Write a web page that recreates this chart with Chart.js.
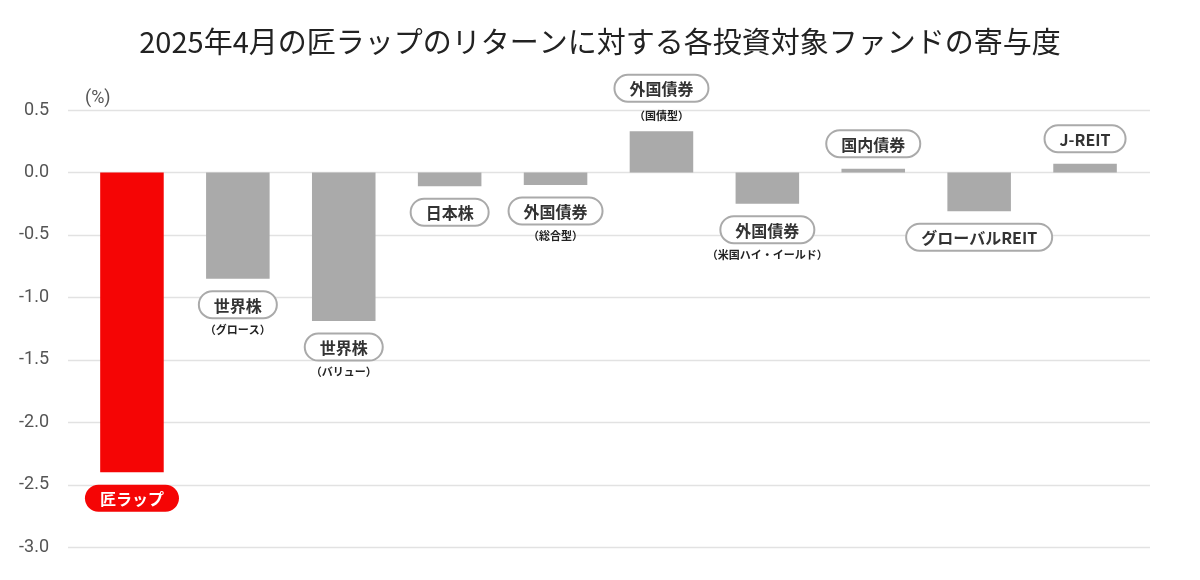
<!DOCTYPE html>
<html><head><meta charset="utf-8">
<script src="https://cdn.jsdelivr.net/npm/chart.js@4"></script>
<style>html,body{margin:0;background:#fff}#w{width:1200px;height:580px}</style>
</head><body><div id="w"><canvas id="c"></canvas></div>
<script>
const categories=['匠ラップ','世界株','世界株','日本株','外国債券','外国債券','外国債券','国内債券','グローバルREIT','J-REIT'];
const subLabels=['','（グロース）','（バリュー）','','（総合型）','（国債型）','（米国ハイ・イールド）','','',''];
const values=[-2.40,-0.85,-1.19,-0.11,-0.10,0.33,-0.25,0.03,-0.31,0.07];
const yTicks=[0.5,0,-0.5,-1,-1.5,-2,-2.5,-3];
const titleText='2025年4月の匠ラップのリターンに対する各投資対象ファンドの寄与度';
const FONT='"Noto Sans CJK JP", "Noto Sans", sans-serif';
const colors=values.map((v,i)=>i===0?'#f50505':'#aaaaaa');

const plug={id:'deco',
beforeDatasetsDraw(ch){const c=ch.ctx,y=ch.scales.y;c.save();c.strokeStyle='#e2e2e2';c.lineWidth=1.3;
 yTicks.forEach(t=>{const p=Math.round(y.getPixelForValue(t))+0.5;c.beginPath();c.moveTo(68,p);c.lineTo(1150,p);c.stroke();});
 c.font='29px '+FONT;c.fillStyle='#222';c.textAlign='center';c.textBaseline='middle';c.fillText(titleText,600,42);
 c.restore();},
afterDatasetsDraw(ch){const c=ch.ctx,m=ch.getDatasetMeta(0);c.save();
 c.font='18px Roboto, sans-serif';c.fillStyle='#555';c.textAlign='left';c.textBaseline='middle';c.fillText('(%)',85,98);
 m.data.forEach((b,i)=>{const v=values[i];const x=b.x;const hasSub=!!subLabels[i];
  let cy;if(v<0)cy=b.y+26;else cy=b.y-(hasSub?43:25);
  c.font='bold 16px '+FONT;const tw=c.measureText(categories[i]).width;const w=tw+30,h=27;
  const r=h/2;c.beginPath();c.roundRect(x-w/2,cy-h/2,w,h,r);
  if(i===0){c.fillStyle='#f50505';c.fill();c.fillStyle='#fff';}
  else{c.fillStyle='#fff';c.fill();c.strokeStyle='#aaa';c.lineWidth=2;c.stroke();c.fillStyle='#333';}
  c.textAlign='center';c.textBaseline='middle';c.fillText(categories[i],x,cy+1);
  if(hasSub){c.font='bold 11px '+FONT;c.fillStyle='#222';c.fillText(subLabels[i],x,cy+(v<0?25:28));}
 });c.restore();}};

new Chart(document.getElementById('c'),{type:'bar',
data:{labels:categories,datasets:[{data:values,backgroundColor:colors,barPercentage:0.6,categoryPercentage:1}]},
options:{responsive:true,maintainAspectRatio:false,animation:false,
 layout:{padding:{left:0,right:62,top:110,bottom:0}},
 plugins:{legend:{display:false},tooltip:{enabled:false},title:{display:false}},
 scales:{x:{display:false},
  y:{min:-3,max:0.5,afterBuildTicks(s){s.ticks=yTicks.map(v=>({value:v}));},afterFit(s){s.width=79;},
   grid:{display:false},border:{display:false},
   ticks:{padding:22,color:'#555',font:{family:'Roboto, sans-serif',size:18},callback:v=>v.toFixed(1)}}}},
 plugins:[plug]});
</script></body></html>
